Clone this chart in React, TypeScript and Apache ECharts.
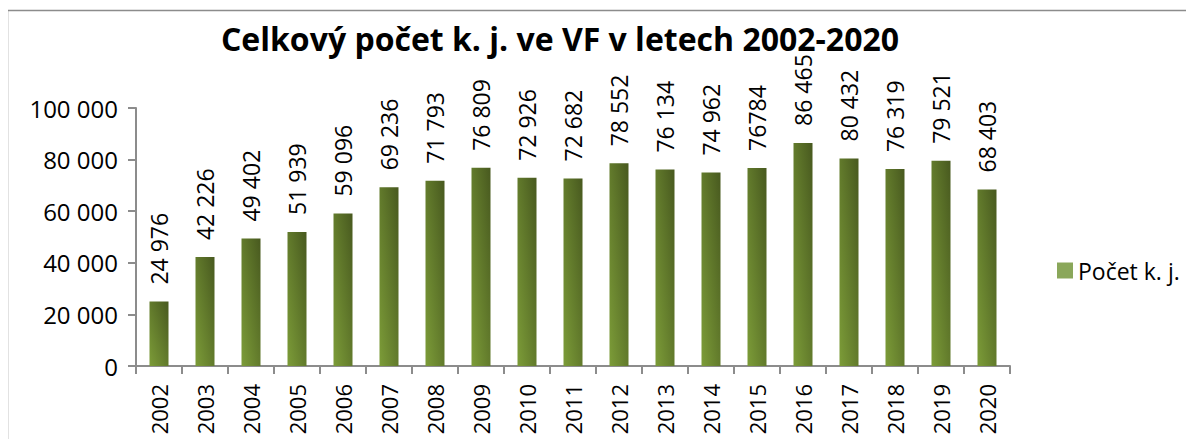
import React, { useEffect, useRef } from "react";
import * as echarts from "echarts";

const years = ["2002","2003","2004","2005","2006","2007","2008","2009","2010","2011","2012","2013","2014","2015","2016","2017","2018","2019","2020"];
const values = [24976,42226,49402,51939,59096,69236,71793,76809,72926,72682,78552,76134,74962,76784,86465,80432,76319,79521,68403];
const valueLabels = ["24 976","42 226","49 402","51 939","59 096","69 236","71 793","76 809","72 926","72 682","78 552","76 134","74 962","76784","86 465","80 432","76 319","79 521","68 403"];
const yTicks = [0, 20000, 40000, 60000, 80000, 100000];
const seriesName = "Počet k. j.";
const title = "Celkový počet k. j. ve VF v letech 2002-2020";

const FONT = "Open Sans";

export default function App() {
  const ref = useRef<HTMLDivElement>(null);
  useEffect(() => {
    const chart = echarts.init(ref.current!, null, { renderer: "svg" });
    const barColor = new echarts.graphic.LinearGradient(0, 1, 1, 0, [
      { offset: 0, color: "#7c9c38" },
      { offset: 1, color: "#48591f" },
    ]);
    chart.setOption({
      animation: false,
      backgroundColor: "#ffffff",
      textStyle: { fontFamily: FONT },
      title: {
        text: title,
        left: 555,
        textAlign: "center",
        top: 17,
        textStyle: { fontFamily: FONT, fontWeight: "bold", fontSize: 32, color: "#000" },
      },
      graphic: [
        {
          type: "rect",
          shape: { x: 7.5, y: 10.5, width: 1300, height: 600 },
          style: { fill: "none", stroke: "#8c8c8c", lineWidth: 1.5 },
          silent: true,
          z: -1,
        },
      ],
      legend: {
        data: [{ name: seriesName, icon: "rect" }],
        left: 1052,
        top: 254,
        itemWidth: 16,
        itemHeight: 16,
        itemGap: 6,
        textStyle: { fontFamily: FONT, fontSize: 23, color: "#000" },
        itemStyle: { color: "#8aa75a" },
      },
      grid: { left: 136, right: 184, top: 108, bottom: 81, containLabel: false },
      xAxis: {
        type: "category",
        data: years,
        axisLine: { lineStyle: { color: "#8c8c8c", width: 2 } },
        axisTick: { show: true, length: 8, lineStyle: { color: "#8c8c8c", width: 2 }, alignWithLabel: false },
        axisLabel: { rotate: 90, margin: 18, fontFamily: FONT, fontSize: 22, color: "#000" },
      },
      yAxis: {
        type: "value",
        min: 0,
        max: 100000,
        interval: 20000,
        splitLine: { show: false },
        axisLine: { show: true, lineStyle: { color: "#8c8c8c", width: 2 } },
        axisTick: { show: true, length: 8, lineStyle: { color: "#8c8c8c", width: 2 } },
        axisLabel: {
          margin: 18,
          fontFamily: FONT,
          fontSize: 24,
          color: "#000",
          formatter: (v: number) => {
            const i = yTicks.indexOf(v);
            const n = i >= 0 ? yTicks[i] : v;
            return n === 0 ? "0" : String(n).replace(/\B(?=(\d{3})+(?!\d))/g, " ");
          },
        },
      },
      series: [
        {
          name: seriesName,
          type: "bar",
          data: values,
          barWidth: 19,
          itemStyle: { color: barColor },
          label: {
            show: true,
            position: "top",
            rotate: 90,
            align: "left",
            verticalAlign: "middle",
            distance: 17,
            fontFamily: FONT,
            fontSize: 23,
            color: "#000",
            formatter: (p: any) => valueLabels[p.dataIndex],
          },
        },
      ],
    });
    return () => chart.dispose();
  }, []);
  return <div ref={ref} style={{ width: 1194, height: 447, margin: -8 }} />;
}
